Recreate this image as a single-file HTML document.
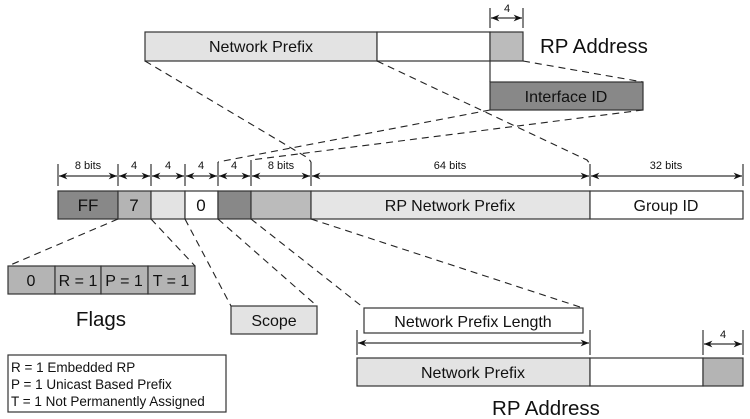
<!DOCTYPE html>
<html><head><meta charset="utf-8"><style>
html,body{margin:0;padding:0;background:#fff;}
svg{display:block;}
text{font-family:"Liberation Sans",Arial,sans-serif;fill:#111;}
</style></head><body>
<svg width="750" height="419" viewBox="0 0 750 419" xmlns="http://www.w3.org/2000/svg">
<defs>
<marker id="a" viewBox="0 0 10 10" refX="10" refY="5" markerWidth="7" markerHeight="7" orient="auto-start-reverse"><path d="M0,1 L10,5 L0,9 L3,5 z" fill="#111"/></marker>
</defs>
<g stroke="#333" stroke-width="1.2">
<rect x="145" y="32" width="232" height="29" fill="#e3e3e3"/>
<rect x="377" y="32" width="113" height="29" fill="#fff"/>
<rect x="490" y="32" width="33" height="29" fill="#bbb"/>
<line x1="490" y1="8" x2="490" y2="28"/><line x1="523" y1="8" x2="523" y2="28"/>
<line x1="491" y1="18" x2="522" y2="18" marker-start="url(#a)" marker-end="url(#a)"/>
<line x1="490" y1="61" x2="490" y2="82"/>
<rect x="490" y="82" width="153" height="28" fill="#888"/>
<rect x="58" y="191" width="60" height="28" fill="#888"/>
<rect x="118" y="191" width="33" height="28" fill="#b4b4b4"/>
<rect x="151" y="191" width="34" height="28" fill="#e3e3e3"/>
<rect x="185" y="191" width="33" height="28" fill="#fff"/>
<rect x="218" y="191" width="33" height="28" fill="#888"/>
<rect x="251" y="191" width="60" height="28" fill="#bbb"/>
<rect x="311" y="191" width="279" height="28" fill="#e5e5e5"/>
<rect x="590" y="191" width="153" height="28" fill="#fff"/>
<line x1="58" y1="164" x2="58" y2="186"/><line x1="118" y1="164" x2="118" y2="186"/>
<line x1="151" y1="164" x2="151" y2="186"/><line x1="185" y1="164" x2="185" y2="186"/>
<line x1="218" y1="162" x2="218" y2="186"/><line x1="251" y1="160" x2="251" y2="186"/>
<line x1="311" y1="162" x2="311" y2="186"/><line x1="590" y1="164" x2="590" y2="186"/>
<line x1="743" y1="164" x2="743" y2="186"/>
<g fill="none">
<line x1="59" y1="176" x2="117" y2="176" marker-start="url(#a)" marker-end="url(#a)"/>
<line x1="119" y1="176" x2="150" y2="176" marker-start="url(#a)" marker-end="url(#a)"/>
<line x1="152" y1="176" x2="184" y2="176" marker-start="url(#a)" marker-end="url(#a)"/>
<line x1="186" y1="176" x2="217" y2="176" marker-start="url(#a)" marker-end="url(#a)"/>
<line x1="219" y1="176" x2="250" y2="176" marker-start="url(#a)" marker-end="url(#a)"/>
<line x1="252" y1="176" x2="310" y2="176" marker-start="url(#a)" marker-end="url(#a)"/>
<line x1="312" y1="176" x2="589" y2="176" marker-start="url(#a)" marker-end="url(#a)"/>
<line x1="591" y1="176" x2="742" y2="176" marker-start="url(#a)" marker-end="url(#a)"/>
</g>
<rect x="8" y="266" width="47" height="28" fill="#b4b4b4"/>
<rect x="55" y="266" width="46" height="28" fill="#b4b4b4"/>
<rect x="101" y="266" width="47" height="28" fill="#b4b4b4"/>
<rect x="148" y="266" width="47" height="28" fill="#b4b4b4"/>
<rect x="231" y="306" width="86" height="28" fill="#e3e3e3"/>
<rect x="364" y="308" width="219" height="25" fill="#fff"/>
<line x1="357" y1="330" x2="357" y2="355"/><line x1="590" y1="330" x2="590" y2="355"/>
<line x1="358" y1="343" x2="589" y2="343" marker-start="url(#a)" marker-end="url(#a)"/>
<line x1="703" y1="330" x2="703" y2="355"/><line x1="743" y1="330" x2="743" y2="355"/>
<line x1="704" y1="344" x2="742" y2="344" marker-start="url(#a)" marker-end="url(#a)"/>
<rect x="357" y="358" width="233" height="28" fill="#e3e3e3"/>
<rect x="590" y="358" width="113" height="28" fill="#fff"/>
<rect x="703" y="358" width="40" height="28" fill="#b4b4b4"/>
<rect x="8" y="355" width="218" height="57" fill="#fff"/>
</g>
<g stroke="#222" stroke-width="1.1" stroke-dasharray="7,5" fill="none">
<polyline points="145,61 308,158 311,162"/>
<polyline points="377,61 587,160 590,164"/>
<line x1="523" y1="61" x2="643" y2="82"/>
<line x1="490" y1="110" x2="218" y2="162"/>
<line x1="643" y1="110" x2="251" y2="160"/>
<line x1="118" y1="219" x2="8" y2="266"/>
<line x1="151" y1="219" x2="195" y2="266"/>
<line x1="185" y1="219" x2="231" y2="306"/>
<line x1="218" y1="219" x2="317" y2="306"/>
<line x1="251" y1="219" x2="364" y2="308"/>
<line x1="311" y1="219" x2="583" y2="308"/>
</g>
<g font-size="16" text-anchor="middle">
<text x="261" y="52">Network Prefix</text>
<text x="566" y="102">Interface ID</text>
<text x="88" y="211" font-size="17">FF</text>
<text x="134" y="211" font-size="17">7</text>
<text x="201" y="211" font-size="17">0</text>
<text x="450" y="211">RP Network Prefix</text>
<text x="666" y="211">Group ID</text>
<text x="31" y="286">0</text>
<text x="78" y="286">R = 1</text>
<text x="124" y="286">P = 1</text>
<text x="171" y="286">T = 1</text>
<text x="274" y="326">Scope</text>
<text x="473" y="327">Network Prefix Length</text>
<text x="473" y="378">Network Prefix</text>
</g>
<g font-size="11" text-anchor="middle">
<text x="88" y="169">8 bits</text><text x="134" y="169">4</text><text x="168" y="169">4</text>
<text x="201" y="169">4</text><text x="234" y="169">4</text><text x="281" y="169">8 bits</text>
<text x="450" y="169">64 bits</text><text x="666" y="169">32 bits</text>
<text x="507" y="12">4</text><text x="723" y="338">4</text>
</g>
<text x="540" y="53" font-size="20.5">RP Address</text>
<text x="101" y="326" font-size="20.5" text-anchor="middle">Flags</text>
<text x="546" y="415" font-size="20.5" text-anchor="middle">RP Address</text>
<g font-size="13.5">
<text x="11" y="372">R = 1 Embedded RP</text>
<text x="11" y="389">P = 1 Unicast Based Prefix</text>
<text x="11" y="406">T = 1 Not Permanently Assigned</text>
</g>
</svg>
</body></html>
